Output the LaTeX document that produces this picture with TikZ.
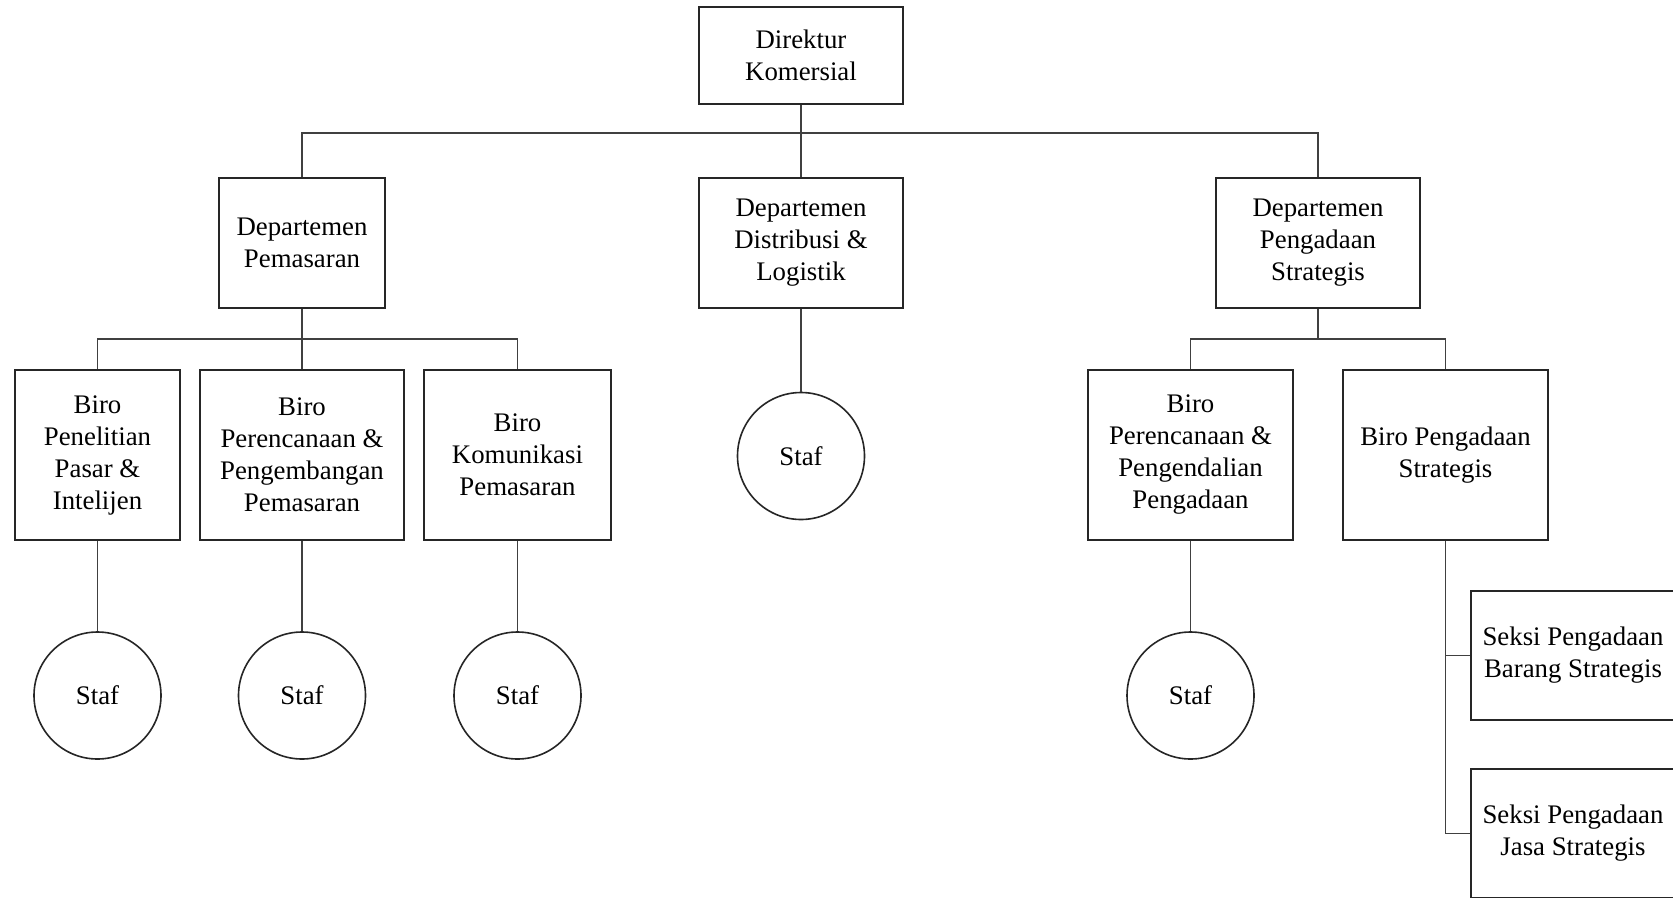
\documentclass[tikz,border=0pt]{standalone}
\usepackage{fontspec}
\setmainfont{Liberation Serif}
\begin{document}
\begin{tikzpicture}[x=1pt,y=1pt,
  unit/.style={draw=black!85,line width=1.6pt,rectangle,align=center,inner sep=0pt,
    font=\fontsize{26.8}{32}\selectfont},
  staff/.style={draw=black!85,line width=1.6pt,circle,minimum size=127pt,inner sep=0pt,
    font=\fontsize{26.8}{32}\selectfont},
  link/.style={draw=black!75,line width=1.3pt}]
\useasboundingbox (0,0) rectangle (1673,-897);
\clip (0,0) rectangle (1673,-897);
% top level
\node[unit,minimum width=204pt,minimum height=97pt] (dir) at (801,-55.5) {Direktur\\Komersial};
% departments
\node[unit,minimum width=166pt,minimum height=130pt] (dp) at (302,-243) {Departemen\\Pemasaran};
\node[unit,minimum width=204pt,minimum height=130pt] (dd) at (801,-243) {Departemen\\Distribusi \&\\Logistik};
\node[unit,minimum width=204pt,minimum height=130pt] (ds) at (1318,-243) {Departemen\\Pengadaan\\Strategis};
% bureaus
\node[unit,minimum width=165pt,minimum height=170pt] (b1) at (97.5,-455) {Biro\\Penelitian\\Pasar \&\\Intelijen};
\node[unit,minimum width=204pt,minimum height=170pt] (b2) at (302,-455) {Biro\\Perencanaan \&\\Pengembangan\\Pemasaran};
\node[unit,minimum width=187pt,minimum height=170pt] (b3) at (517.5,-455) {Biro\\Komunikasi\\Pemasaran};
\node[unit,minimum width=205pt,minimum height=170pt] (b4) at (1190.5,-455) {Biro\\Perencanaan \&\\Pengendalian\\Pengadaan};
\node[unit,minimum width=205pt,minimum height=170pt] (b5) at (1445.5,-455) {Biro Pengadaan\\Strategis};
% sections
\node[unit,minimum width=204pt,minimum height=129pt] (k1) at (1573,-655.5) {Seksi Pengadaan\\Barang Strategis};
\node[unit,minimum width=204pt,minimum height=129pt] (k2) at (1573,-833.5) {Seksi Pengadaan\\Jasa Strategis};
% staff
\node[staff] (sd) at (801,-456) {Staf};
\node[staff] (s1) at (97.5,-695.5) {Staf};
\node[staff] (s2) at (302,-695.5) {Staf};
\node[staff] (s3) at (517.5,-695.5) {Staf};
\node[staff] (s4) at (1190.5,-695.5) {Staf};
% connector junctions
\coordinate (bus) at (801,-133);
\coordinate (bus2) at (302,-339);
\coordinate (bus3) at (1318,-339);
% connectors
\draw[link] (dir.south) -- (dd.north);
\draw[link] (dp.north) |- (bus) -| (ds.north);
\draw[link] (dp.south) -- (b2.north);
\draw[link] (b1.north) |- (bus2) -| (b3.north);
\draw[link] (ds.south) -- (bus3);
\draw[link] (b4.north) |- (bus3) -| (b5.north);
\draw[link] (dd.south) -- (sd.north);
\draw[link] (b1.south) -- (s1.north);
\draw[link] (b2.south) -- (s2.north);
\draw[link] (b3.south) -- (s3.north);
\draw[link] (b4.south) -- (s4.north);
\draw[link] (b5.south) |- (k2.west);
\draw[link] (b5.south |- k1.west) -- (k1.west);
\end{tikzpicture}
\end{document}
